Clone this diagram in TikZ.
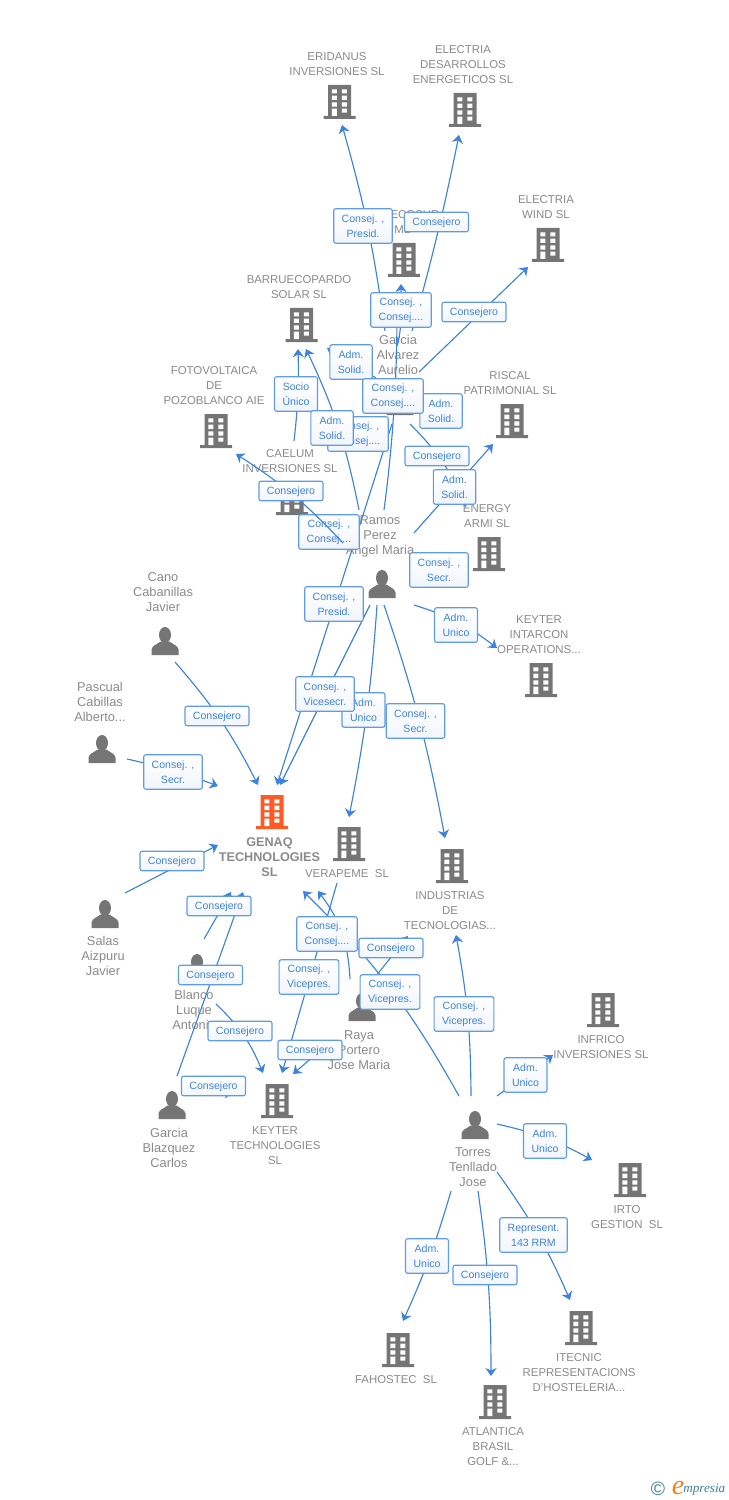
\documentclass[tikz,border=0pt]{standalone}
\usepackage{fontspec}
\setmainfont{Liberation Sans}
\newfontfamily\logofont{Liberation Serif}
\usetikzlibrary{arrows.meta}
\definecolor{icongray}{HTML}{757575}
\definecolor{txtgray}{HTML}{8A8A8A}
\definecolor{linkblue}{HTML}{3C82E0}
\definecolor{boxblue}{HTML}{5F9BE8}
\definecolor{boxshade}{HTML}{F1F5FB}
\definecolor{firmorange}{HTML}{FF5A26}
\definecolor{logoteal}{HTML}{3D7F9E}
\definecolor{logoorange}{HTML}{F58220}
\pgfdeclarelayer{linesback}
\pgfdeclarelayer{labelsback}
\pgfdeclarelayer{linesfront}
\pgfdeclarelayer{labelsfront}
\pgfsetlayers{main,linesback,labelsback,linesfront,labelsfront}
\newcommand{\bldgshape}[1]{%
  \begin{scope}[shift={(path picture bounding box.center)}]
    \fill[#1] (-11.5,-17) rectangle (11.5,14) (-16,14) rectangle (16,17);
    \foreach \ya/\yb in {-12.7/-8.7,-6.3/-2,0.3/4.7}
      \fill[white] (-7.7,\ya) rectangle (-2.7,\yb) (2.3,\ya) rectangle (7.3,\yb);
    \fill[white] (-7.7,6.7) rectangle (-2.7,14) (2.3,6.7) rectangle (7.3,10.7);
  \end{scope}}
\newcommand{\persshape}{%
  \begin{scope}[shift={(path picture bounding box.center)}]
    \fill[icongray] (0,-6) ellipse (6 and 8);
    \fill[icongray] (-13.5,14) -- (-13.5,8.5) .. controls (-13,4.5) and (-8,3.5) .. (-4.5,0.5)
      -- (4.5,0.5) .. controls (8,3.5) and (13,4.5) .. (13.5,8.5) -- (13.5,14) -- cycle;
  \end{scope}}
\tikzstyle{company}=[inner sep=0pt,minimum width=.68cm,minimum height=.72cm,path picture={\bldgshape{icongray}}]
\tikzstyle{mainfirm}=[inner sep=0pt,minimum width=.68cm,minimum height=.72cm,path picture={\bldgshape{firmorange}}]
\tikzstyle{person}=[inner sep=0pt,minimum width=.6cm,minimum height=.6cm,path picture={\persshape}]
\tikzstyle{firmtxt}=[inner sep=0pt,align=center,text=txtgray,yshift=-.02cm,font=\fontsize{6.5}{8.54}\selectfont]
\tikzstyle{mantxt}=[inner sep=0pt,align=center,text=txtgray,font=\fontsize{7.3}{8.54}\selectfont]
\tikzstyle{maintxt}=[inner sep=0pt,align=center,text=txtgray,font=\bfseries\fontsize{7.2}{8.54}\selectfont]
\tikzstyle{labbase}=[draw=boxblue,line width=.65pt,rounded corners=1.2pt,top color=white,bottom color=boxshade,text=linkblue,inner xsep=.16cm,inner ysep=0pt,align=center,font=\fontsize{6}{8.54}\selectfont]
\tikzstyle{labone}=[labbase,minimum height=.39cm,text depth=0pt]
\tikzstyle{labtwo}=[labbase,minimum height=.69cm]
\tikzstyle{link}=[draw=linkblue,line width=.65pt]
\tikzstyle{arrowlink}=[link,-{Stealth[length=4.6pt,width=6.4pt,inset=1.5pt]}]
\begin{document}
\begin{tikzpicture}[x=.02cm,y=-.02cm]
  \useasboundingbox (0,0) rectangle (728,1500);

  \node[company] (eridanus) at (339.5,102) {};
  \node[company] (desarrollos) at (465,110) {};
  \node[company] (ecosur) at (404,260) {};
  \node[company] (barrueco) at (301.5,325) {};
  \node[company] (wind) at (548,245) {};
  \node[company] (fotovolt) at (216,431) {};
  \node[company] (riscal) at (512,421) {};
  \node[company] (caelum) at (292,498) {};
  \node[company] (armi) at (489,554) {};
  \node[company] (intarcon) at (541,680) {};
  \node[mainfirm] (genaq) at (272,812) {};
  \node[company] (verapeme) at (349,844) {};
  \node[company] (industrias) at (452,866) {};
  \node[company] (keyter) at (277,1101) {};
  \node[company] (infrico) at (603,1010) {};
  \node[company] (irto) at (630,1180) {};
  \node[company] (itecnic) at (581,1328) {};
  \node[company] (fahostec) at (398,1350) {};
  \node[company] (atlantica) at (495,1402) {};

  \node[person] (garciaal) at (400,401) {};
  \node[person] (ramos) at (382,584) {};
  \node[person] (cano) at (165,641) {};
  \node[person] (pascual) at (102,749) {};
  \node[person] (salas) at (105,914) {};
  \node[person] (blanco) at (197,968) {};
  \node[person] (raya) at (362,1007) {};
  \node[person] (garciabl) at (172,1105) {};
  \node[person] (torres) at (475,1125) {};

  \node[firmtxt] (eridanustxt) at (337,63.5) {ERIDANUS\\INVERSIONES SL};
  \node[firmtxt] (desarrollostxt) at (463,64) {ELECTRIA\\DESARROLLOS\\ENERGETICOS SL};
  \node[firmtxt] (ecosurtxt) at (415,214) {ECOSUR};
  \node[firmtxt,anchor=west] (ecosurtwo) at (394,229) {MB};
  \node[firmtxt] (barruecotxt) at (299,286.5) {BARRUECOPARDO\\SOLAR SL};
  \node[firmtxt] (windtxt) at (546,206.5) {ELECTRIA\\WIND SL};
  \node[firmtxt] (fotovolttxt) at (214,385) {FOTOVOLTAICA\\DE\\POZOBLANCO AIE};
  \node[firmtxt] (riscaltxt) at (510,382.5) {RISCAL\\PATRIMONIAL SL};
  \node[firmtxt] (caelumtxt) at (290,460.5) {CAELUM\\INVERSIONES SL};
  \node[firmtxt] (armitxt) at (487,515.5) {ENERGY\\ARMI SL};
  \node[firmtxt] (intarcontxt) at (539,634) {KEYTER\\INTARCON\\OPERATIONS...};
  \node[maintxt] (genaqtxt) at (269.5,857) {GENAQ\\TECHNOLOGIES\\SL};
  \node[firmtxt] (verapemetxt) at (347,873) {VERAPEME\ \ SL};
  \node[firmtxt] (industriastxt) at (450,910) {INDUSTRIAS\\DE\\TECNOLOGIAS...};
  \node[firmtxt] (keytertxt) at (275,1145) {KEYTER\\TECHNOLOGIES\\SL};
  \node[firmtxt] (infricotxt) at (601,1046.5) {INFRICO\\INVERSIONES SL};
  \node[firmtxt] (irtotxt) at (627,1216.5) {IRTO\\GESTION\ \ SL};
  \node[firmtxt] (itecnictxt) at (579,1372) {ITECNIC\\REPRESENTACIONS\\D'HOSTELERIA...};
  \node[firmtxt] (fahostectxt) at (396,1379) {FAHOSTEC\ \ SL};
  \node[firmtxt] (atlanticatxt) at (493,1446) {ATLANTICA\\BRASIL\\GOLF \&...};

  \node[mantxt] (garciaaltxt) at (398,355) {Garcia\\Alvarez\\Aurelio};
  \node[mantxt] (ramostxt) at (380,536.5) {Ramos\\Perez\\Angel Maria};
  \node[mantxt] (canotxt) at (163,592) {Cano\\Cabanillas\\Javier};
  \node[mantxt] (pascualtxt) at (100,702) {Pascual\\Cabillas\\Alberto...};
  \node[mantxt] (salastxt) at (103,955.5) {Salas\\Aizpuru\\Javier};
  \node[mantxt] (blancotxt) at (194,1009.5) {Blanco\\Luque\\Antonio};
  \node[mantxt] (rayatxt) at (359,1050.5) {Raya\\Portero\\Jose Maria};
  \node[mantxt] (garciabltxt) at (169,1147.5) {Garcia\\Blazquez\\Carlos};
  \node[mantxt] (torrestxt) at (473,1167) {Torres\\Tenllado\\Jose};

  \coordinate (ga1) at (385,331);
  \coordinate (ga2) at (412,331);
  \coordinate (ga3) at (397,346);
  \coordinate (ga4) at (419,372);
  \coordinate (ga5) at (376,378);
  \coordinate (ga6) at (392,424);
  \coordinate (ga7) at (410,424);
  \coordinate (hid1) at (397,310);
  \coordinate (ca1) at (294,441);
  \coordinate (ra1) at (384,510);
  \coordinate (ra2) at (359,510);
  \coordinate (ra3) at (414,533);
  \coordinate (ra4) at (343,543);
  \coordinate (ra5) at (370,605);
  \coordinate (ra6) at (377,605);
  \coordinate (ra7) at (384,605);
  \coordinate (ra8) at (414,605);
  \coordinate (ca2) at (175,662);
  \coordinate (pa1) at (127,759);
  \coordinate (sa1) at (125,893);
  \coordinate (bl1) at (204,939);
  \coordinate (bl2) at (216,1004);
  \coordinate (gb1) at (177,1076);
  \coordinate (gb2) at (196,1092);
  \coordinate (ve1) at (337,883);
  \coordinate (ry1) at (350,979);
  \coordinate (ry2) at (376,976);
  \coordinate (ry3) at (330,1042);
  \coordinate (to1) at (459,1096);
  \coordinate (to2) at (471,1096);
  \coordinate (to3) at (497,1096);
  \coordinate (to4) at (497,1124);
  \coordinate (to5) at (497,1172);
  \coordinate (to6) at (451,1191);
  \coordinate (to7) at (478,1191);

  \coordinate (tipa) at (342,125);
  \coordinate (tipb) at (459,135);
  \coordinate (tipc) at (401,284);
  \coordinate (tipd) at (528,267);
  \coordinate (tipe) at (327,348);
  \coordinate (tipf) at (298,349);
  \coordinate (tipg) at (306,349);
  \coordinate (tiph) at (466,507);
  \coordinate (tipi) at (493,444);
  \coordinate (tipj) at (236,454);
  \coordinate (tipk) at (497,648);
  \coordinate (tipl) at (277,785);
  \coordinate (tipm) at (280,785);
  \coordinate (tipn) at (349,817);
  \coordinate (tipo) at (445,838);
  \coordinate (tipp) at (258,785);
  \coordinate (tipq) at (218,786);
  \coordinate (tipr) at (218,845);
  \coordinate (tips) at (231,892);
  \coordinate (tipt) at (243,892);
  \coordinate (tipu) at (303,891);
  \coordinate (tipv) at (318,891);
  \coordinate (tipw) at (408,936);
  \coordinate (tipx) at (456,935);
  \coordinate (tipy) at (263,1073);
  \coordinate (tipz) at (282,1073);
  \coordinate (tipaa) at (293,1074);
  \coordinate (tipab) at (233,1093);
  \coordinate (tipac) at (553,1055);
  \coordinate (tipad) at (592,1160);
  \coordinate (tipae) at (570,1300);
  \coordinate (tipaf) at (403,1321);
  \coordinate (tipag) at (491,1376);

  \begin{pgfonlayer}{labelsback}
    \node[labtwo] (lb1) at (358,434) {Consej. ,\\Consej....};
    \node[labtwo] (lb2) at (329,532) {Consej. ,\\Consej....};
  \end{pgfonlayer}

  \begin{pgfonlayer}{linesfront}
    \draw[arrowlink] (ra4) to[bend right=7] (tipj);
  \end{pgfonlayer}

  \begin{pgfonlayer}{labelsfront}
    \node[labtwo] (l1) at (363,226) {Consej. ,\\Presid.};
    \node[labone] (l2) at (436.5,222) {Consejero};
    \node[labtwo] (l3) at (401,310) {Consej. ,\\Consej....};
    \node[labone] (l4) at (474,312) {Consejero};
    \node[labtwo] (l5) at (351,362) {Adm.\\Solid.};
    \node[labtwo] (l6) at (441,411) {Adm.\\Solid.};
    \node[labtwo] (l7) at (393,396) {Consej. ,\\Consej....};
    \node[labtwo] (l8) at (296,394) {Socio\\Único};
    \node[labtwo] (l9) at (332,428) {Adm.\\Solid.};
    \node[labone] (l10) at (437,456) {Consejero};
    \node[labtwo] (l11) at (454.5,487) {Adm.\\Solid.};
    \node[labone] (l12) at (291,491) {Consejero};
    \node[labtwo] (l13) at (439,570) {Consej. ,\\Secr.};
    \node[labtwo] (l14) at (334,604) {Consej. ,\\Presid.};
    \node[labtwo] (l15) at (456,625) {Adm.\\Unico};
    \node[labtwo] (l16) at (363.5,710) {Adm.\\Unico};
    \node[labtwo] (l17) at (325,694) {Consej. ,\\Vicesecr.};
    \node[labtwo] (l18) at (415.5,721) {Consej. ,\\Secr.};
    \node[labone] (l19) at (217,716) {Consejero};
    \node[labtwo] (l20) at (173,772) {Consej. ,\\Secr.};
    \node[labone] (l21) at (172,861) {Consejero};
    \node[labone] (l22) at (219,906) {Consejero};
    \node[labone] (l23) at (210.5,975) {Consejero};
    \node[labone] (l24) at (240,1031) {Consejero};
    \node[labone] (l25) at (213.5,1086) {Consejero};
    \node[labtwo] (l26) at (327,934) {Consej. ,\\Consej....};
    \node[labtwo] (l27) at (309,977) {Consej. ,\\Vicepres.};
    \node[labone] (l28) at (391,948) {Consejero};
    \node[labtwo] (l29) at (390,992) {Consej. ,\\Vicepres.};
    \node[labone] (l30) at (310,1050) {Consejero};
    \node[labtwo] (l31) at (464,1014) {Consej. ,\\Vicepres.};
    \node[labtwo] (l32) at (525.5,1075) {Adm.\\Unico};
    \node[labtwo] (l33) at (545,1141) {Adm.\\Unico};
    \node[labtwo] (l34) at (533.5,1235) {Represent.\\143 RRM};
    \node[labtwo] (l35) at (427,1256) {Adm.\\Unico};
    \node[labone] (l36) at (485,1275) {Consejero};
  \end{pgfonlayer}

  \begin{pgfonlayer}{linesback}
    \draw[arrowlink] (ga1) to[bend right=4] (tipa);
    \draw[arrowlink] (ga2) to[bend right=2] (tipb);
    \draw[arrowlink] (ga3) .. controls (402,330) and (401,310) .. (tipc);
    \draw[link] (ra1) .. controls (396,420) and (397,350) .. (hid1);
    \draw[arrowlink] (ga4) -- (tipd);
    \draw[arrowlink] (ga5) -- (tipe);
    \draw[arrowlink] (ca1) to[bend right=4] (tipf);
    \draw[arrowlink] (ra2) to[bend right=7] (tipg);
    \draw[arrowlink] (ga6) -- (tipl);
    \draw[arrowlink] (ga7) to[bend left=11] (tiph);
    \draw[arrowlink] (ra3) -- (tipi);
    \draw[arrowlink] (ra5) -- (tipm);
    \draw[arrowlink] (ra6) to[bend left=3.5] (tipn);
    \draw[arrowlink] (ra7) to[bend left=4] (tipo);
    \draw[arrowlink] (ra8) to[bend left=10] (tipk);
    \draw[arrowlink] (ca2) to[bend left=7] (tipp);
    \draw[arrowlink] (pa1) to[bend left=4] (tipq);
    \draw[arrowlink] (sa1) -- (tipr);
    \draw[arrowlink] (bl1) -- (tips);
    \draw[arrowlink] (gb1) -- (tipt);
    \draw[arrowlink] (bl2) to[bend left=12] (tipy);
    \draw[arrowlink] (gb2) -- (tipab);
    \draw[arrowlink] (ve1) -- (tipz);
    \draw[arrowlink] (ry1) to[bend right=17] (tipv);
    \draw[arrowlink] (ry2) -- (tipw);
    \draw[arrowlink] (ry3) -- (tipaa);
    \draw[arrowlink] (to1) to[bend right=8] (tipu);
    \draw[arrowlink] (to2) to[bend right=5] (tipx);
    \draw[arrowlink] (to3) -- (tipac);
    \draw[arrowlink] (to4) to[bend left=8] (tipad);
    \draw[arrowlink] (to5) to[bend left=6] (tipae);
    \draw[arrowlink] (to6) to[bend left=4] (tipaf);
    \draw[arrowlink] (to7) to[bend left=4] (tipag);
  \end{pgfonlayer}

  \node[inner sep=0pt,text=logoteal,font=\fontsize{11}{12}\selectfont] (logoc) at (658,1489) {©};
  \node[inner sep=0pt,text=logoorange,font=\logofont\itshape\fontsize{16}{16}\selectfont] (logoe) at (678,1488) {e};
  \node[inner sep=0pt,anchor=west,text=logoteal,font=\logofont\itshape\fontsize{7.5}{9}\selectfont] (logotxt) at (683,1490) {mpresia};
\end{tikzpicture}
\end{document}
